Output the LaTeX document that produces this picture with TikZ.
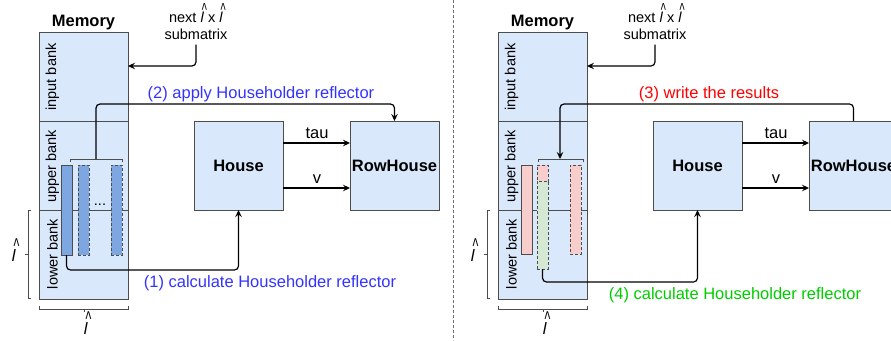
\documentclass[tikz,border=0pt]{standalone}
\usepackage{fontspec}
\usepackage{graphicx}
\setmainfont{Liberation Sans}
\usetikzlibrary{arrows.meta}
\definecolor{memblue}{HTML}{DAE8FC}
\definecolor{colblue}{HTML}{7EA6E0}
\definecolor{pinkc}{HTML}{F8CECC}
\definecolor{greenc}{HTML}{D5E8D4}
\definecolor{boxgray}{HTML}{4D4D4D}
\definecolor{tblue}{HTML}{3333FF}
\definecolor{tred}{HTML}{FF0000}
\definecolor{tgreen}{HTML}{00CC00}
\newcommand\fbig{\fontsize{16.5}{19}\selectfont}
\newcommand\fsm{\fontsize{14.5}{16.5}\selectfont}
\newcommand\lhat{\textit{l}\makebox[0pt][r]{\raisebox{0.45em}{\scalebox{0.75}[1.3]{\textasciicircum}}\kern-0.2em}}
\begin{document}
\begin{tikzpicture}[x=1pt,y=-1pt,
 bank/.style={draw=boxgray, fill=memblue, line width=1pt, minimum width=89pt, minimum height=89pt, inner sep=0pt, outer sep=0pt, anchor=north west},
 unit/.style={bank, font=\fbig\bfseries},
 col/.style={draw=boxgray, line width=0.9pt, minimum width=11pt, inner sep=0pt, outer sep=0pt, anchor=north west},
 dcol/.style={col, dash pattern=on 3pt off 2pt},
 conn/.style={line width=1.2pt, rounded corners=4pt},
 arr/.style={conn, -{Stealth[length=7pt,width=6.5pt,inset=2.5pt]}},
 lbl/.style={font=\fbig, anchor=base, inner sep=0pt},
 bk/.style={rotate=90, font=\fsm, inner sep=0pt},
 brk/.style={line width=0.9pt, draw=boxgray},
 hatl/.style={font=\fbig, inner sep=0pt},
 sep/.style={line width=1pt, draw=boxgray!80, dash pattern=on 3pt off 2pt}
]
\useasboundingbox (0,0) rectangle (891,340);
\clip (0,0) rectangle (891,340);

% ---------------- left panel ----------------
\node[font=\fbig\bfseries, anchor=base, inner sep=0pt] (memt1) at (83.5,27) {Memory};
\node[bank] (in1) at (39,32) {};
\node[bank] (up1) at (39,121) {};
\node[bank] (lo1) at (39,210) {};
\node[bk] (inl1) at (52.5,77) {input bank};
\node[bk] (upl1) at (52.5,166) {upper bank};
\node[bk] (lol1) at (52.5,254) {lower bank};

\node[col, fill=colblue, minimum height=90pt] (c1) at (61,165) {};
\node[dcol, fill=colblue, minimum height=90pt] (d1) at (78,165) {};
\node[dcol, fill=colblue, minimum height=90pt] (e1) at (111,165) {};
\node[font=\fsm, anchor=base, inner sep=0pt] (dots1) at (100,205) {...};
\draw[brk] (70,162) -- (70,159) -- (122,159) -- (122,162);
\coordinate (b1) at (96,159);

\node[unit] (h1) at (194,121) {House};
\node[unit] (rh1) at (350,121) {RowHouse};
\draw[arr] ([yshift=22.5pt]h1.east) -- ([yshift=22.5pt]rh1.west);
\draw[arr] ([yshift=-22.5pt]h1.east) -- ([yshift=-22.5pt]rh1.west);
\node[lbl] (tau1) at (317,138) {tau};
\node[lbl] (v1) at (317,183) {v};

\node[font=\fsm, anchor=base, inner sep=0pt] (n1a) at (196,23) {next \lhat\ x \lhat};
\node[font=\fsm, anchor=base, inner sep=0pt, outer ysep=5pt] (n1b) at (196,39.5) {submatrix};
\draw[arr] (n1b.south) |- ([yshift=10.5pt]in1.east);

\draw[arr] (b1) -- ++(0,-55) -| (rh1.north);
\draw[arr] (c1.south) -- ++(0,15) -| (h1.south);
\node[lbl, text=tblue] (l2) at (261,98) {(2) apply Householder reflector};
\node[lbl, text=tblue] (l1) at (270,287) {(1) calculate Householder reflector};

\draw[brk] (31,210) -- (28,210) -- (28,298) -- (31,298);
\draw[brk] (28,254) -- (25,254);
\node[hatl] (lh1) at (14,250) {\lhat};
\draw[brk] (39,306) -- (39,309) -- (128,309) -- (128,306);
\draw[brk] (84,309) -- (84,312);
\node[hatl] (lb1) at (86,323) {\lhat};

% separator
\draw[sep] (453,0) -- (453,340);

% ---------------- right panel ----------------
\node[font=\fbig\bfseries, anchor=base, inner sep=0pt] (memt2) at (542.5,27) {Memory};
\node[bank] (in2) at (498,32) {};
\node[bank] (up2) at (498,121) {};
\node[bank] (lo2) at (498,210) {};
\node[bk] (inl2) at (511.5,77) {input bank};
\node[bk] (upl2) at (511.5,166) {upper bank};
\node[bk] (lol2) at (511.5,254) {lower bank};

\node[col, fill=pinkc, minimum height=89pt] (c2) at (521,165) {};
\node[dcol, fill=pinkc, minimum height=16pt] (d2a) at (537,165) {};
\node[dcol, fill=greenc, minimum height=88pt] (d2b) at (537,181) {};
\node[dcol, fill=pinkc, minimum height=89pt] (e2) at (570,165) {};
\draw[brk] (538,162) -- (538,159) -- (583,159) -- (583,162);
\coordinate (b2) at (560,159);

\node[unit] (h2) at (653,121) {House};
\node[unit] (rh2) at (809,121) {RowHouse};
\draw[arr] ([yshift=22.5pt]h2.east) -- ([yshift=22.5pt]rh2.west);
\draw[arr] ([yshift=-22.5pt]h2.east) -- ([yshift=-22.5pt]rh2.west);
\node[lbl] (tau2) at (776,138) {tau};
\node[lbl] (v2) at (776,183) {v};

\node[font=\fsm, anchor=base, inner sep=0pt] (n2a) at (655,23) {next \lhat\ x \lhat};
\node[font=\fsm, anchor=base, inner sep=0pt, outer ysep=5pt] (n2b) at (655,39.5) {submatrix};
\draw[arr] (n2b.south) |- ([yshift=10.5pt]in2.east);

\draw[arr] (rh2.north) -- ++(0,-17) -| (b2);
\draw[arr] (d2b.south) -- ++(0,13) -| (h2.south);
\node[lbl, text=tred] (l3) at (709,98) {(3) write the results};
\node[lbl, text=tgreen] (l4) at (735,299) {(4) calculate Householder reflector};

\draw[brk] (490,210) -- (487,210) -- (487,298) -- (490,298);
\draw[brk] (487,254) -- (484,254);
\node[hatl] (lh2) at (473,250) {\lhat};
\draw[brk] (498,306) -- (498,309) -- (587,309) -- (587,306);
\draw[brk] (543,309) -- (543,312);
\node[hatl] (lb2) at (545,323) {\lhat};
\end{tikzpicture}
\end{document}
